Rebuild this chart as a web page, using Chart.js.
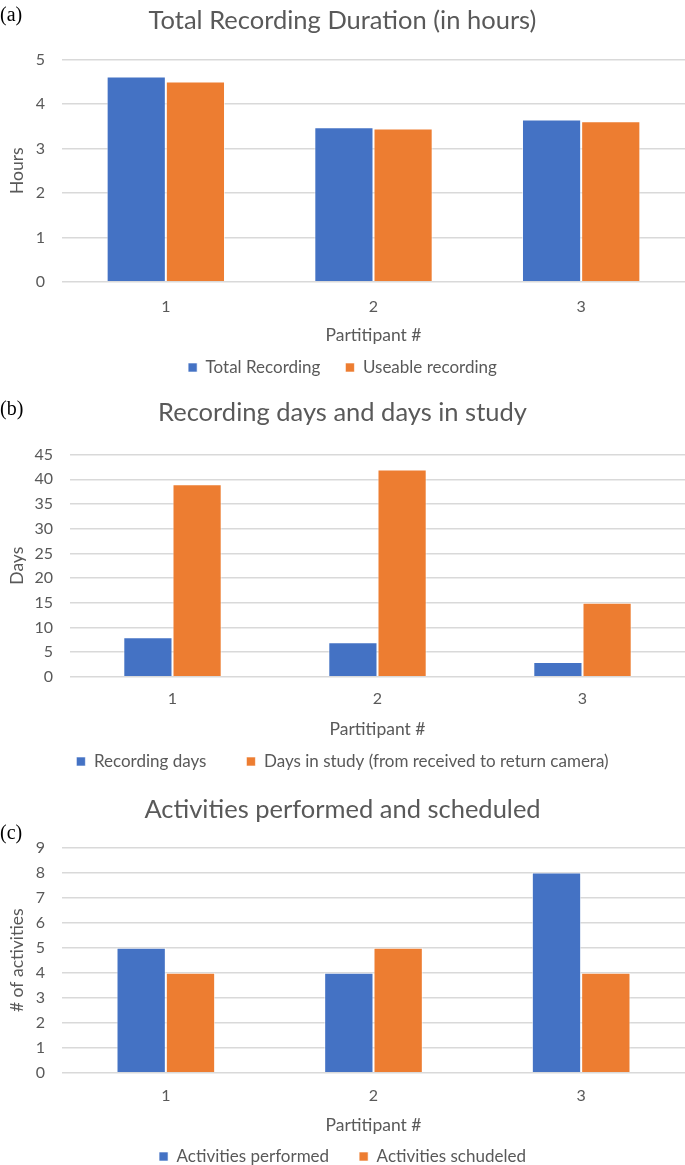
<!DOCTYPE html>
<html>
<head>
<meta charset="utf-8">
<script src="https://cdn.jsdelivr.net/npm/chart.js@4/dist/chart.umd.min.js"></script>
<style>
  body { margin: 0; background: #fff; overflow: hidden; }
  .wrap { position: absolute; left: 0; width: 685px; }
  .tag { position: absolute; font-family: "Liberation Serif", "Times New Roman", serif; font-size: 20px; color: #000; }
</style>
</head>
<body>
<div class="wrap" style="top:0;height:390px"><canvas id="chartA"></canvas></div>
<div class="wrap" style="top:390px;height:390px"><canvas id="chartB"></canvas></div>
<div class="wrap" style="top:780px;height:400px"><canvas id="chartC"></canvas></div>
<div class="tag" style="left:0;top:3px">(a)</div>
<div class="tag" style="left:0;top:397px">(b)</div>
<div class="tag" style="left:0;top:821px">(c)</div>
<script>
// data
var participants = ['1', '2', '3'];

var totalRecording = [4.62, 3.48, 3.65];
var useableRecording = [4.51, 3.45, 3.61];
var hourTicks = [0, 1, 2, 3, 4, 5];

var recordingDays = [8, 7, 3];
var daysInStudy = [39, 42, 15];
var dayTicks = [0, 5, 10, 15, 20, 25, 30, 35, 40, 45];

var activitiesPerformed = [5, 4, 8];
var activitiesScheduled = [4, 5, 4];
var activityTicks = [0, 1, 2, 3, 4, 5, 6, 7, 8, 9];

var BLUE = '#4472C4';
var ORANGE = '#ED7D31';
var TEXT = '#595959';
var GRID = '#D9D9D9';
var FONT = 'Lato, "Open Sans", sans-serif';

function makeChart(id, cfg) {
    var ctx = document.getElementById(id).getContext('2d');
    var ticks = cfg.ticks;
    return new Chart(ctx, {
        type: 'bar',
        data: {
            labels: participants,
            datasets: [{
                label: cfg.names[0],
                data: cfg.series[0],
                backgroundColor: BLUE,
                borderColor: 'rgba(255,255,255,0.6)',
                borderWidth: 1
            }, {
                label: cfg.names[1],
                data: cfg.series[1],
                backgroundColor: ORANGE,
                borderColor: 'rgba(255,255,255,0.6)',
                borderWidth: 1
            }]
        },
        options: {
            responsive: true,
            maintainAspectRatio: false,
            animation: false,
            layout: { padding: { left: 0, right: 0, top: cfg.top, bottom: cfg.bottom } },
            datasets: {
                bar: { categoryPercentage: cfg.catPct, barPercentage: 1 }
            },
            plugins: {
                title: {
                    display: true,
                    text: cfg.title,
                    color: TEXT,
                    font: { family: FONT, size: 25.5, weight: 'normal' },
                    padding: { top: 0, bottom: cfg.titleGap }
                },
                legend: {
                    position: 'bottom',
                    labels: {
                        color: TEXT,
                        font: { family: FONT, size: 17 },
                        boxWidth: 9,
                        boxHeight: 9,
                        padding: cfg.legendGap
                    }
                },
                tooltip: { enabled: false }
            },
            scales: {
                x: {
                    grid: { display: false },
                    border: { display: false },
                    ticks: { color: TEXT, font: { family: FONT, size: 16 }, padding: cfg.tickPad },
                    title: {
                        display: true,
                        text: 'Partitipant #',
                        color: TEXT,
                        font: { family: FONT, size: 17.5 },
                        padding: { top: cfg.xTitleTop, bottom: cfg.xTitleBottom }
                    }
                },
                y: {
                    min: ticks[0],
                    max: ticks[ticks.length - 1],
                    afterBuildTicks: function (scale) {
                        scale.ticks = ticks.map(function (v) { return { value: v }; });
                    },
                    ticks: { color: TEXT, font: { family: FONT, size: 16 }, padding: 17, autoSkip: false },
                    grid: { color: GRID, lineWidth: 1.5, drawTicks: false },
                    border: { display: false },
                    title: {
                        display: true,
                        text: cfg.yTitle,
                        color: TEXT,
                        font: { family: FONT, size: 17.5 },
                        padding: { top: 7, bottom: 0 }
                    },
                    afterFit: function (scale) { scale.width = cfg.yWidth; }
                }
            }
        }
    });
}

makeChart('chartA', {
    title: 'Total Recording Duration (in hours)',
    names: ['Total Recording', 'Useable recording'],
    series: [totalRecording, useableRecording],
    ticks: hourTicks, yTitle: 'Hours', yWidth: 62,
    catPct: 0.57, legendGap: 25, top: 5, bottom: 4, titleGap: 24,
    tickPad: 7, xTitleTop: 2, xTitleBottom: -12
});

makeChart('chartB', {
    title: 'Recording days and days in study',
    names: ['Recording days', 'Days in study (from received to return camera)'],
    series: [recordingDays, daysInStudy],
    ticks: dayTicks, yTitle: 'Days', yWidth: 70,
    catPct: 0.48, legendGap: 40, top: 7, bottom: 0, titleGap: 27,
    tickPad: 4, xTitleTop: 7, xTitleBottom: -27
});

makeChart('chartC', {
    title: 'Activities performed and scheduled',
    names: ['Activities performed', 'Activities schudeled'],
    series: [activitiesPerformed, activitiesScheduled],
    ticks: activityTicks, yTitle: '# of activities', yWidth: 62,
    catPct: 0.475, legendGap: 30, top: 14, bottom: 5, titleGap: 23,
    tickPad: 5, xTitleTop: 5, xTitleBottom: -18
});
</script>
</body>
</html>
